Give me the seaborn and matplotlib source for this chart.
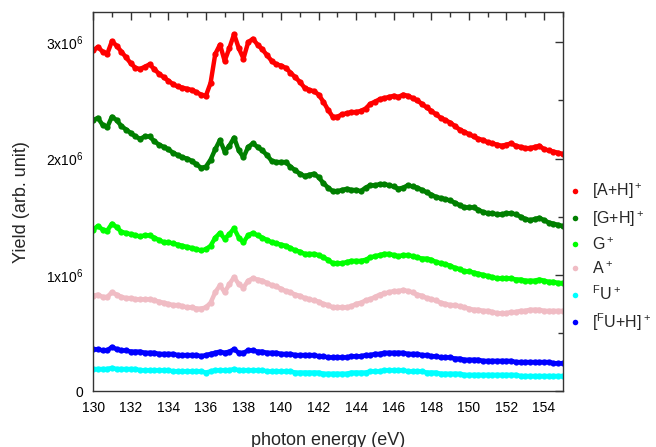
import numpy as np
import pandas as pd
import matplotlib
matplotlib.use('Agg')
import matplotlib.pyplot as plt
import matplotlib.ticker as mticker
from matplotlib.lines import Line2D
import seaborn as sns

# photon energy grid (eV), one reading every 0.25 eV
energy = np.linspace(130, 155, 101)

# yields, in units of 1e6
yield_AH = [
    2.93, 2.96, 2.92, 2.90, 3.01, 2.97, 2.92, 2.87, 2.82, 2.78,
    2.77, 2.79, 2.81, 2.77, 2.73, 2.70, 2.67, 2.64, 2.62, 2.61,
    2.60, 2.59, 2.57, 2.55, 2.54, 2.65, 2.90, 2.98, 2.84, 2.95,
    3.07, 2.95, 2.86, 3.00, 3.03, 2.98, 2.94, 2.89, 2.84, 2.81,
    2.80, 2.78, 2.74, 2.70, 2.66, 2.61, 2.59, 2.58, 2.55, 2.49,
    2.42, 2.36, 2.36, 2.38, 2.39, 2.40, 2.40, 2.41, 2.43, 2.47,
    2.49, 2.51, 2.52, 2.53, 2.54, 2.53, 2.55, 2.54, 2.52, 2.50,
    2.47, 2.44, 2.41, 2.38, 2.35, 2.33, 2.31, 2.28, 2.25, 2.23,
    2.21, 2.19, 2.17, 2.16, 2.14, 2.13, 2.12, 2.11, 2.12, 2.13,
    2.11, 2.10, 2.09, 2.09, 2.10, 2.11, 2.08, 2.07, 2.06, 2.05,
    2.04]
yield_GH = [
    2.33, 2.35, 2.29, 2.27, 2.36, 2.33, 2.28, 2.25, 2.22, 2.19,
    2.17, 2.19, 2.19, 2.15, 2.12, 2.10, 2.08, 2.05, 2.03, 2.01,
    2.00, 1.98, 1.95, 1.92, 1.93, 1.99, 2.08, 2.16, 2.06, 2.11,
    2.18, 2.07, 2.01, 2.10, 2.13, 2.10, 2.07, 2.03, 1.98, 1.97,
    1.97, 1.97, 1.93, 1.90, 1.87, 1.85, 1.86, 1.87, 1.84, 1.79,
    1.75, 1.72, 1.72, 1.73, 1.74, 1.73, 1.73, 1.72, 1.75, 1.77,
    1.77, 1.78, 1.78, 1.77, 1.76, 1.74, 1.75, 1.77, 1.76, 1.75,
    1.73, 1.71, 1.69, 1.67, 1.66, 1.65, 1.64, 1.62, 1.60, 1.58,
    1.58, 1.58, 1.56, 1.54, 1.53, 1.53, 1.52, 1.52, 1.53, 1.53,
    1.52, 1.50, 1.48, 1.47, 1.48, 1.49, 1.47, 1.45, 1.44, 1.43,
    1.42]
yield_G = [
    1.39, 1.42, 1.39, 1.38, 1.44, 1.41, 1.37, 1.36, 1.35, 1.34,
    1.33, 1.34, 1.34, 1.32, 1.30, 1.28, 1.28, 1.27, 1.26, 1.25,
    1.24, 1.23, 1.22, 1.21, 1.22, 1.25, 1.32, 1.36, 1.31, 1.35,
    1.40, 1.32, 1.28, 1.34, 1.36, 1.34, 1.32, 1.30, 1.28, 1.27,
    1.26, 1.25, 1.23, 1.21, 1.20, 1.18, 1.18, 1.18, 1.17, 1.15,
    1.13, 1.10, 1.10, 1.10, 1.11, 1.12, 1.12, 1.12, 1.13, 1.15,
    1.16, 1.17, 1.18, 1.18, 1.17, 1.16, 1.17, 1.17, 1.16, 1.15,
    1.14, 1.14, 1.13, 1.11, 1.10, 1.09, 1.08, 1.06, 1.05, 1.03,
    1.03, 1.02, 1.01, 1.00, 0.99, 0.98, 0.97, 0.97, 0.97, 0.97,
    0.96, 0.96, 0.95, 0.95, 0.95, 0.96, 0.95, 0.94, 0.94, 0.93,
    0.93]
yield_A = [
    0.82, 0.83, 0.81, 0.81, 0.85, 0.83, 0.81, 0.80, 0.80, 0.79,
    0.79, 0.79, 0.79, 0.78, 0.77, 0.76, 0.75, 0.74, 0.74, 0.73,
    0.72, 0.72, 0.71, 0.71, 0.72, 0.76, 0.85, 0.91, 0.85, 0.92,
    0.98, 0.92, 0.89, 0.95, 0.97, 0.96, 0.95, 0.93, 0.91, 0.90,
    0.88, 0.86, 0.85, 0.83, 0.82, 0.80, 0.79, 0.78, 0.77, 0.75,
    0.74, 0.72, 0.72, 0.72, 0.72, 0.73, 0.75, 0.76, 0.78, 0.79,
    0.81, 0.83, 0.84, 0.85, 0.86, 0.86, 0.87, 0.86, 0.85, 0.83,
    0.82, 0.80, 0.79, 0.78, 0.76, 0.75, 0.74, 0.74, 0.73, 0.72,
    0.71, 0.70, 0.70, 0.69, 0.69, 0.68, 0.67, 0.67, 0.67, 0.68,
    0.68, 0.69, 0.69, 0.70, 0.70, 0.70, 0.69, 0.69, 0.69, 0.69,
    0.69]
yield_FU = [
    0.19, 0.19, 0.19, 0.19, 0.20, 0.19, 0.19, 0.19, 0.19, 0.19,
    0.18, 0.18, 0.18, 0.18, 0.18, 0.18, 0.18, 0.17, 0.17, 0.17,
    0.17, 0.17, 0.17, 0.17, 0.16, 0.17, 0.18, 0.18, 0.18, 0.18,
    0.19, 0.18, 0.18, 0.18, 0.18, 0.18, 0.18, 0.17, 0.17, 0.17,
    0.17, 0.17, 0.17, 0.16, 0.16, 0.16, 0.16, 0.16, 0.16, 0.15,
    0.15, 0.15, 0.15, 0.15, 0.15, 0.16, 0.16, 0.16, 0.16, 0.17,
    0.17, 0.17, 0.18, 0.18, 0.18, 0.18, 0.18, 0.17, 0.17, 0.17,
    0.17, 0.16, 0.16, 0.16, 0.15, 0.15, 0.15, 0.15, 0.15, 0.14,
    0.14, 0.14, 0.14, 0.14, 0.14, 0.14, 0.14, 0.14, 0.14, 0.14,
    0.14, 0.13, 0.13, 0.13, 0.13, 0.13, 0.13, 0.13, 0.13, 0.13,
    0.13]
yield_FUH = [
    0.36, 0.36, 0.35, 0.35, 0.38, 0.36, 0.35, 0.35, 0.34, 0.34,
    0.34, 0.33, 0.33, 0.33, 0.32, 0.32, 0.32, 0.32, 0.31, 0.31,
    0.31, 0.31, 0.31, 0.30, 0.31, 0.32, 0.33, 0.34, 0.33, 0.34,
    0.36, 0.33, 0.33, 0.35, 0.35, 0.34, 0.34, 0.33, 0.33, 0.33,
    0.32, 0.32, 0.32, 0.31, 0.31, 0.31, 0.31, 0.31, 0.30, 0.30,
    0.29, 0.29, 0.29, 0.29, 0.29, 0.30, 0.30, 0.30, 0.31, 0.31,
    0.32, 0.32, 0.33, 0.33, 0.33, 0.33, 0.33, 0.32, 0.32, 0.32,
    0.31, 0.31, 0.30, 0.30, 0.29, 0.29, 0.29, 0.28, 0.28, 0.27,
    0.27, 0.27, 0.27, 0.26, 0.26, 0.26, 0.26, 0.26, 0.26, 0.26,
    0.25, 0.25, 0.25, 0.25, 0.25, 0.25, 0.25, 0.25, 0.24, 0.24,
    0.24]

ion_labels = ['[A+H]$^+$', '[G+H]$^+$', 'G$^+$', 'A$^+$', '$^F$U$^+$', '[$^F$U+H]$^+$']
ion_colors = ['#ff0000', '#007f00', '#00ff00', '#f0bcc4', '#00ffff', '#0000ff']
series = [yield_AH, yield_GH, yield_G, yield_A, yield_FU, yield_FUH]

frames = []
for lab, vals in zip(ion_labels, series):
    assert len(vals) == len(energy)
    frames.append(pd.DataFrame({'energy': energy, 'yield': np.array(vals) * 1e6, 'ion': lab}))
df = pd.concat(frames, ignore_index=True)

sns.set_style('white')
plt.rcParams['font.family'] = ['Liberation Sans', 'DejaVu Sans']
plt.rcParams['mathtext.default'] = 'regular'

fig = plt.figure(figsize=(6.56, 4.47), dpi=100)
ax = fig.add_axes([0.142, 0.125, 0.716, 0.848])

sns.lineplot(data=df, x='energy', y='yield', hue='ion', hue_order=ion_labels,
             palette=ion_colors, marker='o', markersize=4.5, markeredgewidth=0,
             linewidth=3.2, legend=False, ax=ax)

ax.set_xlim(130, 155)
ax.set_ylim(0, 3.26e6)
ax.xaxis.set_major_locator(mticker.MultipleLocator(2))
ax.xaxis.set_minor_locator(mticker.MultipleLocator(1))
ax.yaxis.set_major_locator(mticker.MultipleLocator(1e6))
ax.yaxis.set_minor_locator(mticker.MultipleLocator(0.5e6))

def sci_fmt(v, pos):
    n = int(round(v / 1e6))
    return '0' if n == 0 else f'{n}x10$^6$'

ax.yaxis.set_major_formatter(mticker.FuncFormatter(sci_fmt))
ax.tick_params(which='both', direction='in', top=True, right=True, colors='#333333',
               labelcolor='black', labelsize=10, width=1)
ax.tick_params(which='major', length=6)
ax.tick_params(which='minor', length=3.5)
ax.tick_params(axis='x', which='major', pad=7)
ax.tick_params(axis='y', which='major', pad=7)
for sp in ax.spines.values():
    sp.set_color('#333333')
    sp.set_linewidth(1)

ax.set_xlabel('photon energy (eV)', fontsize=13, labelpad=12)
ax.set_ylabel('Yield (arb. unit)', fontsize=13, labelpad=12)

# legend sits outside the axes on the right, dots only
handles = [Line2D([], [], ls='none', marker='o', markersize=4, markeredgewidth=0, color=c)
           for c in ion_colors]
fig.legend(handles, ion_labels, loc='upper left', bbox_to_anchor=(0.848, 0.615),
           frameon=False, fontsize=11.5, handlelength=1.2, handletextpad=0.45,
           labelspacing=0.48, borderaxespad=0.2)

fig.savefig('out.png', dpi=100)
